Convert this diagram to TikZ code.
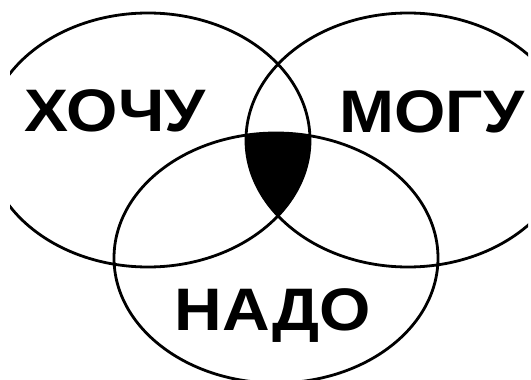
\documentclass[tikz,border=0pt]{standalone}
\usepackage{fontspec}
\setmainfont{Liberation Sans}
\newfontfamily\wordfont[FakeStretch=1.1]{Liberation Sans Bold}
\tikzset{
  ring/.style={draw=black,line width=2.8pt},
  word/.style={font=\wordfont\fontsize{60}{60}\selectfont,inner sep=0pt,anchor=base},
}
\begin{document}
\begin{tikzpicture}[x=1pt,y=-1pt]
    \useasboundingbox[fill=white] (0,0) rectangle (531,380);
    % shaded part: all three sets at once
    \begin{scope}
      \clip (148,140) ellipse [x radius=162pt,y radius=127pt];
      \clip (408,140) ellipse [x radius=162pt,y radius=127pt];
      \fill[black] (276,258) ellipse [x radius=162pt,y radius=125pt];
    \end{scope}
    \begin{scope}
      \clip (10,0) rectangle (528,380);
      \draw[ring] (148,140) ellipse [x radius=162pt,y radius=127pt];
      \draw[ring] (408,140) ellipse [x radius=162pt,y radius=127pt];
      \draw[ring] (276,258) ellipse [x radius=162pt,y radius=125pt];
    \end{scope}
    \node[word] (want) at (115,131) {ХОЧУ};
    \node[word] (can) at (432,132) {МОГУ};
    \node[word] (must) at (273,330) {НАДО};
  \end{tikzpicture}
\end{document}
